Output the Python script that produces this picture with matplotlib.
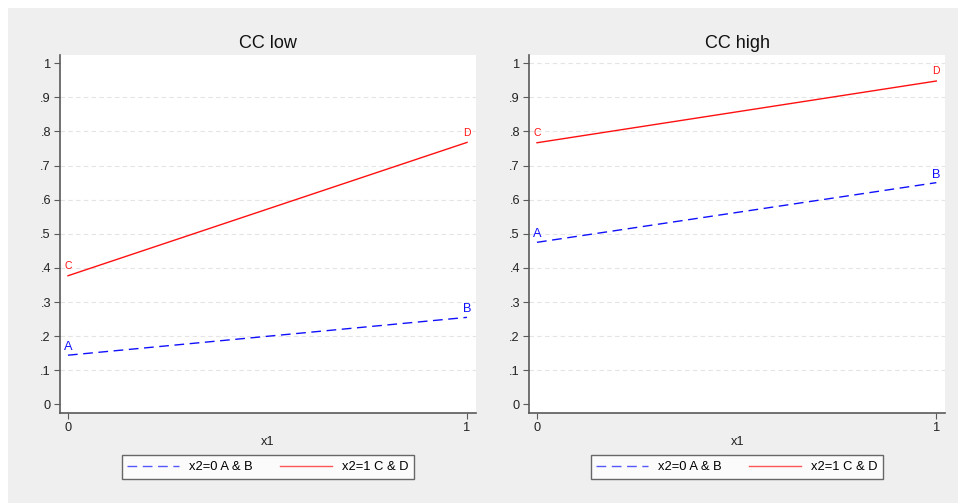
import matplotlib
matplotlib.use("Agg")
import matplotlib.pyplot as plt
from matplotlib.patches import Rectangle

plt.rcParams['font.family'] = ['Liberation Sans', 'DejaVu Sans']

x1 = [0, 1]
panels = ["CC low", "CC high"]
x2_0_vals = {"CC low": [0.144, 0.255], "CC high": [0.475, 0.650]}
x2_1_vals = {"CC low": [0.377, 0.768], "CC high": [0.767, 0.948]}
labels_0 = ["A", "B"]
labels_1 = ["C", "D"]
legend_labels = ["x2=0 A & B", "x2=1 C & D"]
yticks = [0, .1, .2, .3, .4, .5, .6, .7, .8, .9, 1]
ytick_labels = ["0", ".1", ".2", ".3", ".4", ".5", ".6", ".7", ".8", ".9", "1"]

BLUE = "#1010ff"
RED = "#ff1010"
BG = "#efefef"
SPINE = "#5a5a5a"

fig = plt.figure(figsize=(9.58, 5.03), dpi=100)
fig.patches.append(Rectangle((8/958, 0), 1 - 8/958, 1 - 8/503, transform=fig.transFigure,
                             facecolor=BG, edgecolor='none', zorder=-10))

positions = [(60/958, 1 - 412.7/503, 416/958, 357.7/503),
             (529/958, 1 - 412.7/503, 416.3/958, 357.7/503)]
legend_centers = [(268/958, 1 - 467/503), (737/958, 1 - 467/503)]

for i, name in enumerate(panels):
    ax = fig.add_axes(positions[i])
    ax.set_facecolor('white')
    ax.set_xlim(-0.02, 1.0225)
    ax.set_ylim(-0.0246, 1.0243)
    grid_ticks = yticks[1:-1] if i == 0 else yticks[1:]
    for g in grid_ticks:
        ax.axhline(g, color='#e4e4e4', lw=0.8, dashes=(4, 3), zorder=0)
    l0, = ax.plot(x1, x2_0_vals[name], color=BLUE, lw=1.0, dashes=(7, 4), zorder=3)
    l1, = ax.plot(x1, x2_1_vals[name], color=RED, lw=1.0, zorder=3)
    for xv, yv, lab in zip(x1, x2_0_vals[name], labels_0):
        ax.annotate(lab, (xv, yv), xytext=(0, 1.5), textcoords='offset points',
                    ha='center', va='bottom', color=BLUE, fontsize=9.2)
    for xv, yv, lab in zip(x1, x2_1_vals[name], labels_1):
        ax.annotate(lab, (xv, yv), xytext=(0, 3.5), textcoords='offset points',
                    ha='center', va='bottom', color=RED, fontsize=7.5)
    ax.set_xticks([0, 1])
    ax.set_xticklabels(["0", "1"])
    ax.set_yticks(yticks)
    ax.set_yticklabels(ytick_labels)
    ax.tick_params(axis='both', direction='out', length=4, width=0.8, color=SPINE,
                   labelsize=9.2, labelcolor='#222222', pad=2.5)
    for s in ['top', 'right']:
        ax.spines[s].set_visible(False)
    for s in ['left', 'bottom']:
        ax.spines[s].set_color(SPINE)
        ax.spines[s].set_linewidth(1.2)
    ax.set_xlabel("x1", fontsize=9.2, color='#222222', labelpad=1.5)
    ax.set_title(name, fontsize=13, color='#111111', pad=5)
    leg = fig.legend([l0, l1], legend_labels, loc='center',
                     bbox_to_anchor=legend_centers[i], bbox_transform=fig.transFigure,
                     ncol=2, fontsize=9.3, frameon=True, fancybox=False,
                     handlelength=4.0, handletextpad=0.8, columnspacing=2.1,
                     borderpad=0.45, borderaxespad=0)
    leg.get_frame().set_edgecolor('#444444')
    leg.get_frame().set_linewidth(1.0)
    leg.get_frame().set_facecolor('white')
    for h in leg.get_lines():
        h.set_alpha(0.7)

fig.savefig("out.png", dpi=100)
